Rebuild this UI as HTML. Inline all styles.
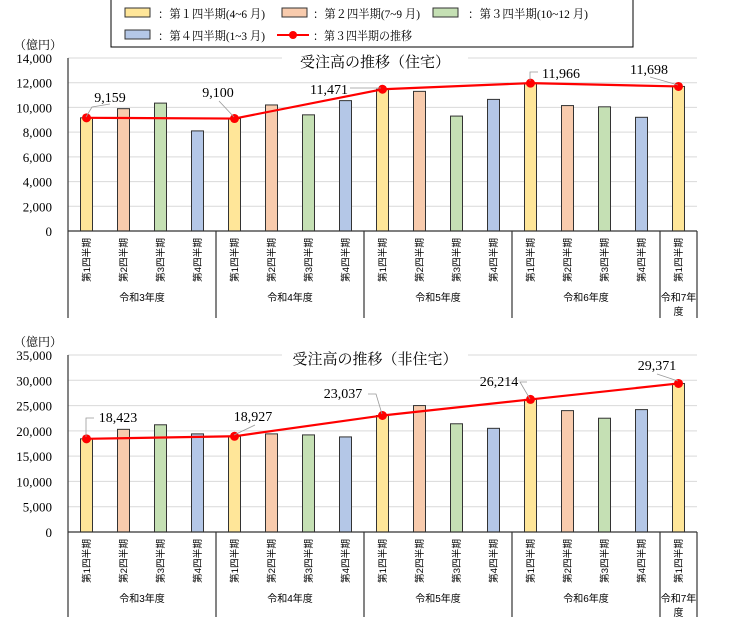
<!DOCTYPE html>
<html><head><meta charset="utf-8"><style>
body{margin:0;background:#fff;width:737px;height:630px;overflow:hidden}
svg{display:block}
text{font-family:"Liberation Serif","Noto Serif CJK SC",serif}
.s{font-family:"Liberation Sans","Noto Sans CJK JP",sans-serif}
</style></head><body>
<svg id="c" width="737" height="630" xmlns="http://www.w3.org/2000/svg">
<rect x="111" y="-2" width="522" height="49" fill="#fff" stroke="#000" stroke-width="1"/>
<rect x="125" y="8" width="25" height="9" fill="#FFE699" stroke="#333"/>
<text x="158" y="18" font-size="12" textLength="107" lengthAdjust="spacingAndGlyphs">：第１四半期(4~6 月)</text>
<rect x="282" y="8" width="25" height="9" fill="#F8CBAD" stroke="#333"/>
<text x="313" y="18" font-size="12" textLength="107" lengthAdjust="spacingAndGlyphs">：第２四半期(7~9 月)</text>
<rect x="433" y="8" width="25" height="9" fill="#C5E0B4" stroke="#333"/>
<text x="468" y="18" font-size="12" textLength="120" lengthAdjust="spacingAndGlyphs">：第３四半期(10~12 月)</text>
<rect x="125" y="30" width="25" height="9" fill="#B4C7E7" stroke="#333"/>
<text x="158" y="40" font-size="12" textLength="107" lengthAdjust="spacingAndGlyphs">：第４四半期(1~3 月)</text>
<line x1="277" y1="35" x2="309" y2="35" stroke="red" stroke-width="2"/>
<circle cx="293" cy="35" r="4" fill="red"/>
<text x="313" y="40" font-size="12" textLength="99" lengthAdjust="spacingAndGlyphs">：第３四半期の推移</text>
</svg>
<script>
const S=document.getElementById('c'),NS='http://www.w3.org/2000/svg';
function el(t,a,tx){const e=document.createElementNS(NS,t);for(const k in a)e.setAttribute(k,a[k]);if(tx!=null)e.textContent=tx;S.appendChild(e);return e;}
const cols=['#FFE699','#F8CBAD','#C5E0B4','#B4C7E7'];
function chart(o){
 const L=68,R=697,top=o.top,bot=o.bot,max=o.max,step=o.step,n=17,w=(R-L)/n;
 const y=v=>bot-(v/max)*(bot-top);
 el('text',{x:14,y:top-9,'font-size':12},'（億円）');
 for(let v=0;v<=max;v+=step){const yy=y(v);
  if(v>0)el('line',{x1:L,y1:yy,x2:R,y2:yy,stroke:'#d9d9d9','stroke-width':1});
  el('text',{x:52,y:yy+5,'font-size':13,'text-anchor':'end'},v.toLocaleString('en-US'));}
 el('rect',{x:282,y:top-7,width:186,height:18,fill:'#fff'});
 el('text',{x:375,y:top+9,'font-size':15,'text-anchor':'middle'},o.title);
 o.vals.forEach((v,i)=>{const cx=L+w*(i+0.5);
  el('rect',{x:cx-6,y:y(v),width:12,height:bot-y(v),fill:cols[i%4],stroke:'#333','stroke-width':1});});
 el('line',{x1:L,y1:top,x2:L,y2:o.axb,stroke:'#333','stroke-width':1.2});
 el('line',{x1:L,y1:bot,x2:R,y2:bot,stroke:'#333','stroke-width':1.2});
 [4,8,12,16,17].forEach(k=>{const xx=L+w*k;el('line',{x1:xx,y1:bot,x2:xx,y2:o.axb,stroke:'#333','stroke-width':1.2});});
 for(let i=0;i<n;i++){const cx=L+w*(i+0.5);
  el('text',{x:0,y:0,'font-size':9.5,class:'s','text-anchor':'middle',textLength:44,lengthAdjust:'spacingAndGlyphs',transform:`translate(${cx+3.5},${bot+29}) rotate(-90)`},'第'+(i%4+1)+'四半期');}
 ['令和3年度','令和4年度','令和5年度','令和6年度'].forEach((s,k)=>{
  el('text',{x:L+w*(4*k+2),y:bot+70,'font-size':10,class:'s','text-anchor':'middle'},s);});
 el('text',{x:L+w*16.5,y:bot+70,'font-size':10,class:'s','text-anchor':'middle'},'令和7年');
 el('text',{x:L+w*16.5,y:bot+84,'font-size':10,class:'s','text-anchor':'middle'},'度');
 const pts=[0,4,8,12,16].map(i=>[L+w*(i+0.5),y(o.vals[i])]);
 el('polyline',{points:pts.map(p=>p.join(',')).join(' '),fill:'none',stroke:'red','stroke-width':2.2});
 pts.forEach((p,j)=>{el('circle',{cx:p[0],cy:p[1],r:4.5,fill:'red'});
  const lb=o.labels[j];el('polyline',{points:lb.l,fill:'none',stroke:'#999','stroke-width':0.8});
  el('text',{x:lb.x,y:lb.y,'font-size':14,'text-anchor':'middle'},o.vals[[0,4,8,12,16][j]].toLocaleString('en-US'));});
}
chart({top:58,bot:231,axb:318,max:14000,step:2000,title:'受注高の推移（住宅）',
 vals:[9159,9900,10350,8100,9100,10200,9400,10550,11471,11300,9300,10650,11966,10150,10050,9200,11698],
 labels:[{x:110,y:102,l:'86,117 92,107 110,104'},{x:218,y:97,l:'234,117 219,101'},{x:329,y:94,l:'381,88 374,88 350,88'},{x:561,y:78,l:'530,81 530,72 538,72'},{x:649,y:74,l:'678,85 650,77'}]});
chart({top:355,bot:532,axb:617,max:35000,step:5000,title:'受注高の推移（非住宅）',
 vals:[18423,20300,21200,19400,18927,19400,19200,18800,23037,25000,21400,20500,26214,24000,22500,24200,29371],
 labels:[{x:118,y:422,l:'86,437 86,418 94,418'},{x:253,y:421,l:'234,435 255,425'},{x:343,y:398,l:'382,414 376,394 368,394'},{x:499,y:386,l:'530,399 520,382 527,382'},{x:657,y:370,l:'678,381 657,374'}]});
</script>
</body></html>
